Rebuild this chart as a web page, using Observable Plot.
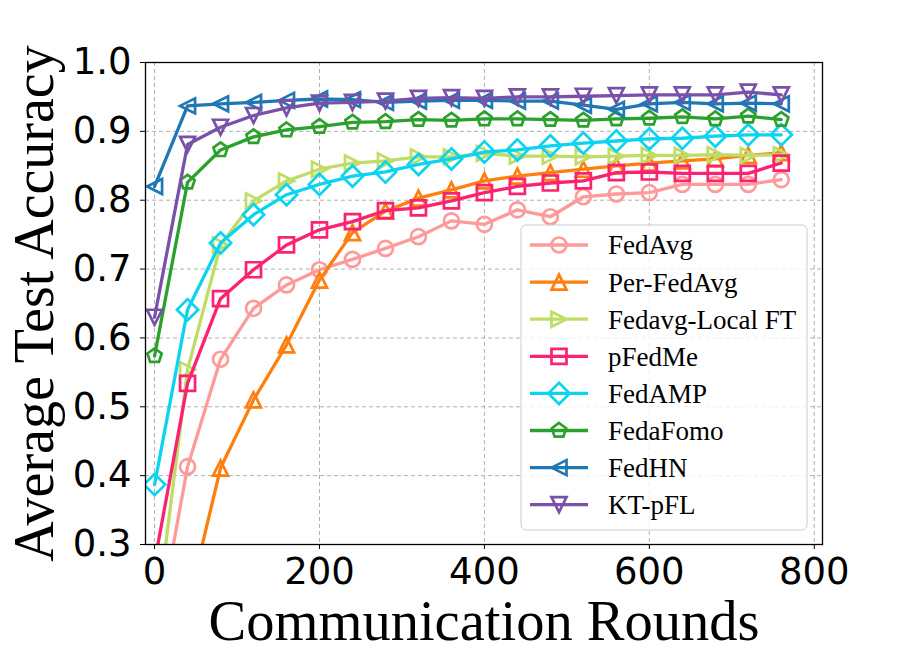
<!DOCTYPE html>
<html>
<head>
<meta charset="utf-8">
<script src="https://cdn.jsdelivr.net/npm/d3@7"></script>
<script src="https://cdn.jsdelivr.net/npm/@observablehq/plot@0.6"></script>
<style>
  html, body { margin: 0; padding: 0; background: #fff; }
  #chart svg { display: block; }
</style>
</head>
<body>
<div id="chart"></div>
<script>
// ---- data ----
const rounds = [0, 40, 80, 120, 160, 200, 240, 280, 320, 360, 400, 440, 480, 520, 560, 600, 640, 680, 720, 760];
const fedAvg      = [0.150, 0.413, 0.569, 0.643, 0.677, 0.699, 0.714, 0.730, 0.747, 0.770, 0.765, 0.786, 0.776, 0.805, 0.809, 0.811, 0.823, 0.823, 0.823, 0.830];
const perFedAvg   = [0.100, 0.210, 0.411, 0.510, 0.590, 0.684, 0.753, 0.784, 0.803, 0.815, 0.828, 0.835, 0.840, 0.845, 0.850, 0.854, 0.857, 0.860, 0.865, 0.869];
const fedavgLocal = [0.170, 0.554, 0.735, 0.799, 0.828, 0.845, 0.854, 0.857, 0.863, 0.863, 0.868, 0.864, 0.864, 0.863, 0.864, 0.865, 0.865, 0.866, 0.865, 0.866];
const pFedMe      = [0.274, 0.534, 0.657, 0.699, 0.735, 0.757, 0.769, 0.785, 0.789, 0.799, 0.811, 0.820, 0.825, 0.828, 0.840, 0.841, 0.839, 0.839, 0.839, 0.854];
const fedAMP      = [0.387, 0.641, 0.738, 0.779, 0.808, 0.823, 0.835, 0.841, 0.852, 0.860, 0.870, 0.873, 0.879, 0.883, 0.886, 0.889, 0.890, 0.893, 0.895, 0.895];
const fedaFomo    = [0.574, 0.826, 0.873, 0.892, 0.902, 0.907, 0.913, 0.914, 0.917, 0.916, 0.918, 0.918, 0.917, 0.916, 0.918, 0.919, 0.921, 0.918, 0.922, 0.917];
const fedHN       = [0.820, 0.937, 0.940, 0.942, 0.945, 0.947, 0.946, 0.942, 0.944, 0.945, 0.945, 0.944, 0.944, 0.938, 0.932, 0.940, 0.942, 0.940, 0.941, 0.940];
const ktPFL       = [0.630, 0.881, 0.906, 0.923, 0.934, 0.941, 0.942, 0.944, 0.948, 0.949, 0.948, 0.950, 0.950, 0.951, 0.952, 0.953, 0.953, 0.953, 0.957, 0.953];

const seriesNames  = ["FedAvg", "Per-FedAvg", "Fedavg-Local FT", "pFedMe", "FedAMP", "FedaFomo", "FedHN", "KT-pFL"];
const seriesValues = [fedAvg, perFedAvg, fedavgLocal, pFedMe, fedAMP, fedaFomo, fedHN, ktPFL];
const seriesColors = ["#fe9a9a", "#ff7f0e", "#bfdd64", "#fb2271", "#0cd4f0", "#2ca02c", "#1f77b4", "#7851a9"];
const seriesMarkers = ["circle", "triangleUp", "triangleRight", "square", "diamond", "pentagon", "triangleLeft", "triangleDown"];

const xTicks = [0, 200, 400, 600, 800];
const yTicks = [0.3, 0.4, 0.5, 0.6, 0.7, 0.8, 0.9, 1.0];

// ---- matplotlib-like marker symbols ----
function mk(fn) { return { draw(ctx, size) { const h = Math.sqrt(size / Math.PI); fn(ctx, h); } }; }
const symbols = {
  circle: mk((c, h) => { c.moveTo(h, 0); c.arc(0, 0, h, 0, 2 * Math.PI); c.closePath(); }),
  triangleUp: mk((c, h) => { c.moveTo(0, -h); c.lineTo(-h, h); c.lineTo(h, h); c.closePath(); }),
  triangleDown: mk((c, h) => { c.moveTo(0, h); c.lineTo(-h, -h); c.lineTo(h, -h); c.closePath(); }),
  triangleRight: mk((c, h) => { c.moveTo(h, 0); c.lineTo(-h, -h); c.lineTo(-h, h); c.closePath(); }),
  triangleLeft: mk((c, h) => { c.moveTo(-h, 0); c.lineTo(h, -h); c.lineTo(h, h); c.closePath(); }),
  square: mk((c, h) => { c.moveTo(-h, -h); c.lineTo(h, -h); c.lineTo(h, h); c.lineTo(-h, h); c.closePath(); }),
  diamond: mk((c, h) => { const d = h * Math.SQRT2; c.moveTo(0, -d); c.lineTo(d, 0); c.lineTo(0, d); c.lineTo(-d, 0); c.closePath(); }),
  pentagon: mk((c, h) => {
    for (let k = 0; k < 5; k++) {
      const a = -Math.PI / 2 + 2 * Math.PI * k / 5;
      const px = h * Math.cos(a), py = h * Math.sin(a);
      if (k === 0) c.moveTo(px, py); else c.lineTo(px, py);
    }
    c.closePath();
  })
};

const R = 7.5;
const lineW = 3.3;
const markW = 2.7;

const marks = [
  Plot.gridX(xTicks, {stroke: "#b0b0b0", strokeOpacity: 1, strokeWidth: 1, strokeDasharray: "4,3"}),
  Plot.gridY(yTicks, {stroke: "#b0b0b0", strokeOpacity: 1, strokeWidth: 1, strokeDasharray: "4,3"})
];
seriesNames.forEach((name, i) => {
  const data = rounds.map((r, j) => ({round: r, acc: seriesValues[i][j]}));
  marks.push(Plot.line(data, {x: "round", y: "acc", stroke: seriesColors[i], strokeWidth: lineW, clip: true}));
  marks.push(Plot.dot(data, {x: "round", y: "acc", symbol: symbols[seriesMarkers[i]], r: R,
    stroke: seriesColors[i], strokeWidth: markW, fill: "none", clip: true}));
});
marks.push(
  Plot.frame({stroke: "#000", strokeWidth: 1.3}),
  Plot.axisX(xTicks, {tickSize: 5, tickPadding: 8, fontSize: 37, fontFamily: "DejaVu Sans", label: null, stroke: "#000"}),
  Plot.axisY(yTicks, {tickSize: 5, tickPadding: 9, fontSize: 37, fontFamily: "DejaVu Sans", label: null, stroke: "#000", tickFormat: d3.format(".1f")}),
  Plot.text(["Communication Rounds"], {frameAnchor: "bottom", dy: 95, lineAnchor: "bottom", textAnchor: "middle",
    fontSize: 56.5, fontFamily: "Liberation Serif", fill: "#000"}),
  Plot.text(["Average Test Accuracy"], {frameAnchor: "left", dx: -93, rotate: -90, lineAnchor: "bottom", textAnchor: "middle",
    fontSize: 56, fontFamily: "Liberation Serif", fill: "#000"})
);

const chart = Plot.plot({
  width: 913,
  height: 664,
  marginLeft: 145,
  marginRight: 91,
  marginTop: 62,
  marginBottom: 120,
  style: {background: "#fff", overflow: "visible"},
  x: {domain: [-11, 810]},
  y: {domain: [0.3, 1.0]},
  marks
});
document.getElementById("chart").appendChild(chart);

// ---- legend inside the axes ----
const svg = d3.select(chart);
const lg = svg.append("g").attr("class", "legend").attr("text-anchor", "start");
const box = {x: 521, y: 225, w: 286, h: 305};
lg.append("rect").attr("x", box.x).attr("y", box.y).attr("width", box.w).attr("height", box.h)
  .attr("rx", 5).attr("fill", "#fff").attr("fill-opacity", 0.8).attr("stroke", "#cccccc").attr("stroke-width", 1);
const rowH = 37.1, row0 = 245;
seriesNames.forEach((name, i) => {
  const cy = row0 + i * rowH;
  const g = lg.append("g");
  g.append("line").attr("x1", 530).attr("x2", 588).attr("y1", cy).attr("y2", cy)
    .attr("stroke", seriesColors[i]).attr("stroke-width", lineW);
  g.append("path").attr("d", d3.symbol(symbols[seriesMarkers[i]], R * R * Math.PI)())
    .attr("transform", `translate(559,${cy})`)
    .attr("fill", "none").attr("stroke", seriesColors[i]).attr("stroke-width", markW);
  g.append("text").attr("x", 608).attr("y", cy).attr("dy", "0.35em").attr("text-anchor", "start")
    .attr("font-family", "Liberation Serif").attr("font-size", 27).attr("fill", "#000").text(name);
});
</script>
</body>
</html>
